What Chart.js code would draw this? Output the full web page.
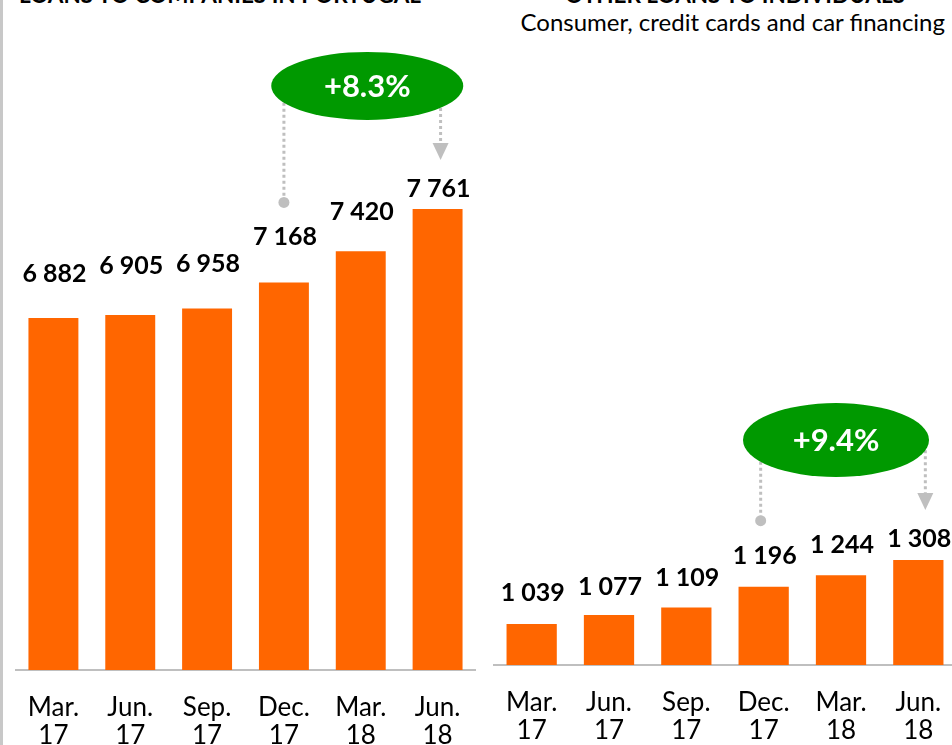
<!DOCTYPE html>
<html>
<head>
<meta charset="utf-8">
<script src="https://cdn.jsdelivr.net/npm/chart.js@4"></script>
<style>
  html, body { margin: 0; padding: 0; background: #fff; }
  body { width: 952px; height: 745px; position: relative; overflow: hidden; font-family: Lato, "Open Sans", sans-serif; }
  .edge { position: absolute; left: 0; top: 0; width: 3px; height: 745px; background: #c8c8c8; }
  .title { position: absolute; top: -16px; font-weight: 700; font-size: 22.5px; line-height: 22.5px; color: #000; white-space: nowrap; transform: translateX(-50%); }
  .sub { position: absolute; right: 7px; top: 10px; font-size: 24px; line-height: 24px; color: #000; white-space: nowrap; }
  .box { position: absolute; top: 0; }
</style>
</head>
<body>
<div class="edge"></div>
<div class="title" style="left:220px">LOANS TO COMPANIES IN PORTUGAL</div>
<div class="title" style="left:735px">OTHER LOANS TO INDIVIDUALS</div>
<div class="sub">Consumer, credit cards and car financing</div>
<div class="box" style="left:15px;width:461px;height:774px"><canvas id="left"></canvas></div>
<div class="box" style="left:493px;width:464px;height:769px"><canvas id="right"></canvas></div>
<script>
// Loans to companies / other loans to individuals (M€), quarterly
const quarters = [["Mar.", "17"], ["Jun.", "17"], ["Sep.", "17"], ["Dec.", "17"], ["Mar.", "18"], ["Jun.", "18"]];
const companyLoans = [6882, 6905, 6958, 7168, 7420, 7761];
const individualLoans = [1039, 1077, 1109, 1196, 1244, 1308];
const companyGrowth = "+8.3%";
const individualGrowth = "+9.4%";

const ORANGE = "#ff6600", GREEN = "#009900", GREY = "#bfbfbf";
const FONT = "Lato, 'Open Sans', sans-serif";

const fmt = (v) => String(v).replace(/\B(?=(\d{3})+(?!\d))/g, " ");

// value labels above bars + growth bubble with dotted connectors
const decor = {
  id: "decor",
  afterDatasetsDraw(chart, _args, o) {
    const ctx = chart.ctx;
    const bars = chart.getDatasetMeta(0).data;
    ctx.save();
    ctx.fillStyle = "#000";
    ctx.font = `bold 25px ${FONT}`;
    ctx.textAlign = "center";
    ctx.textBaseline = "middle";
    bars.forEach((b, i) => {
      ctx.fillText(fmt(chart.data.datasets[0].data[i]), b.x + 1, b.y - o.gaps[i]);
    });

    const from = bars[o.from], to = bars[o.to];
    const dotX = from.x + o.dotDx, dotY = from.y - o.dotRise;
    const arrX = to.x + o.arrDx, tipY = to.y - o.arrRise;
    const cx = (dotX + arrX) / 2 + o.dx, cy = to.y - o.bubbleRise;
    const edgeY = (x) => cy + o.ry * Math.sqrt(Math.max(0, 1 - ((x - cx) / o.rx) ** 2));

    ctx.strokeStyle = GREY;
    ctx.fillStyle = GREY;
    ctx.lineWidth = 3;
    ctx.setLineDash([3, 3]);
    ctx.beginPath();
    ctx.moveTo(dotX, edgeY(dotX));
    ctx.lineTo(dotX, dotY);
    ctx.moveTo(arrX, edgeY(arrX));
    ctx.lineTo(arrX, tipY - 16);
    ctx.stroke();
    ctx.setLineDash([]);
    ctx.beginPath();
    ctx.arc(dotX, dotY, 5.5, 0, Math.PI * 2);
    ctx.fill();
    ctx.beginPath();
    ctx.moveTo(arrX - 8, tipY - 17);
    ctx.lineTo(arrX + 8, tipY - 17);
    ctx.lineTo(arrX, tipY);
    ctx.closePath();
    ctx.fill();

    ctx.fillStyle = GREEN;
    ctx.beginPath();
    ctx.ellipse(cx, cy, o.rx, o.ry, 0, 0, Math.PI * 2);
    ctx.fill();
    ctx.fillStyle = "#fff";
    ctx.font = `bold 31px ${FONT}`;
    ctx.fillText(o.text, cx, cy + 1);
    ctx.restore();
  },
};

function makeChart(id, values, yMin, yMax, deco) {
  return new Chart(document.getElementById(id), {
    type: "bar",
    data: {
      labels: quarters,
      datasets: [{ data: values, backgroundColor: ORANGE, barPercentage: 0.65, categoryPercentage: 1 }],
    },
    options: {
      responsive: true, maintainAspectRatio: false, animation: false,
      layout: { padding: 0 },
      plugins: { legend: { display: false }, tooltip: { enabled: false }, decor: deco },
      scales: {
        x: {
          grid: { display: false, drawTicks: false },
          border: { display: true, color: GREY, width: 2 },
          ticks: { color: "#000", padding: 24, font: { family: FONT, size: 26, lineHeight: 1.077 } },
          // labels sit well inside the offset categories, no side padding needed
          afterFit: (s) => { s.paddingLeft = 0; s.paddingRight = 0; },
        },
        y: { display: false, min: yMin, max: yMax },
      },
    },
    plugins: [decor],
  });
}

makeChart("left", companyLoans, 4043, 9446, {
  gaps: [44, 49, 45, 46, 39, 20], from: 3, to: 5, text: companyGrowth,
  dotDx: 0, dotRise: 80, arrDx: 3, arrRise: 49, bubbleRise: 123, dx: 5, rx: 96, ry: 34,
});
makeChart("right", individualLoans, 867, 3662, {
  gaps: [31, 28, 29, 31, 30, 21], from: 3, to: 5, text: individualGrowth,
  dotDx: -3, dotRise: 66, arrDx: 7, arrRise: 50, bubbleRise: 120, dx: -7, rx: 93, ry: 37,
});
</script>
</body>
</html>
